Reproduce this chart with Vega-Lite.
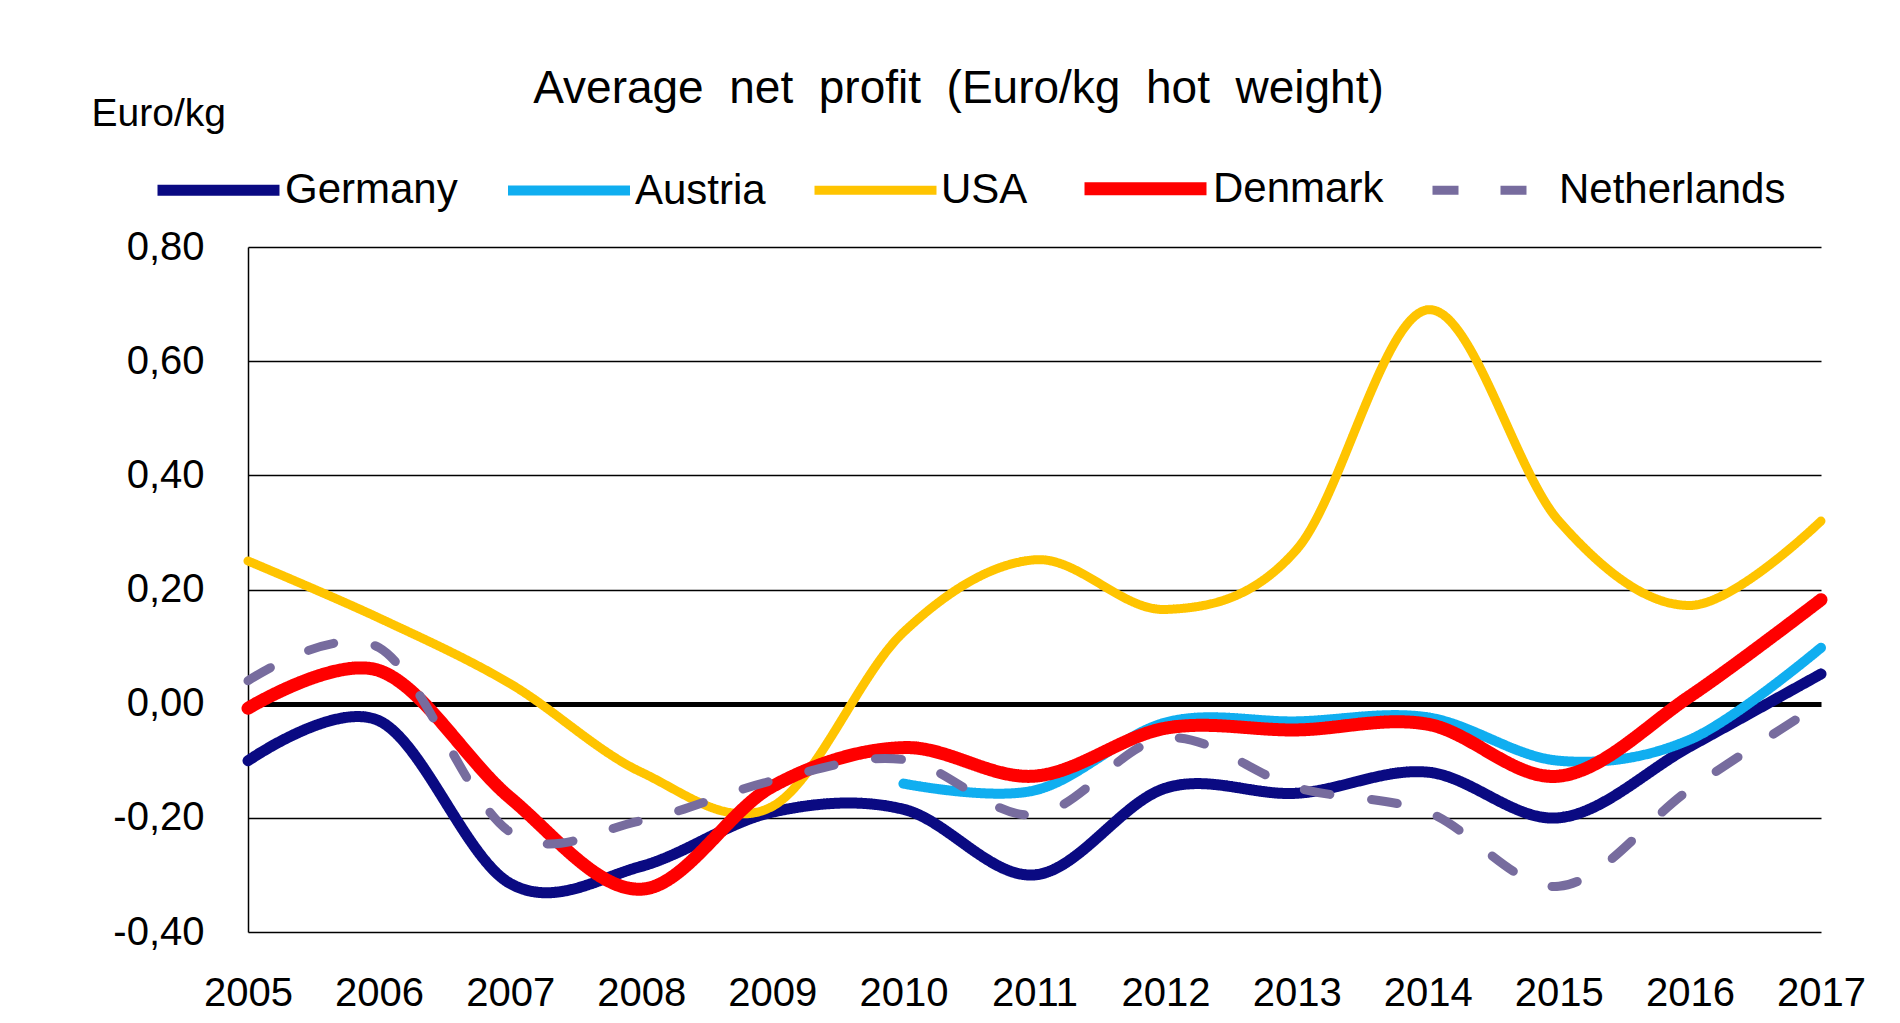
{
  "$schema": "https://vega.github.io/schema/vega-lite/v6.json",
  "autosize": "none",
  "width": 1573,
  "height": 685,
  "padding": {"left": 248, "top": 247, "right": 79, "bottom": 91},
  "background": "white",
  "title": {
    "text": "Average\u00a0 net\u00a0 profit\u00a0 (Euro/kg\u00a0 hot\u00a0 weight)",
    "anchor": "middle",
    "frame": "group",
    "dx": -76,
    "offset": -19,
    "font": "Liberation Sans",
    "fontSize": 46,
    "fontWeight": "normal",
    "color": "#000000"
  },
  "data": {
    "values": [
      {"year": 2005, "country": "Germany", "value": -0.10},
      {"year": 2006, "country": "Germany", "value": -0.03},
      {"year": 2007, "country": "Germany", "value": -0.315},
      {"year": 2008, "country": "Germany", "value": -0.285},
      {"year": 2009, "country": "Germany", "value": -0.19},
      {"year": 2010, "country": "Germany", "value": -0.185},
      {"year": 2011, "country": "Germany", "value": -0.30},
      {"year": 2012, "country": "Germany", "value": -0.148},
      {"year": 2013, "country": "Germany", "value": -0.157},
      {"year": 2014, "country": "Germany", "value": -0.12},
      {"year": 2015, "country": "Germany", "value": -0.20},
      {"year": 2016, "country": "Germany", "value": -0.075},
      {"year": 2017, "country": "Germany", "value": 0.052},
      {"year": 2010, "country": "Austria", "value": -0.14},
      {"year": 2011, "country": "Austria", "value": -0.152},
      {"year": 2012, "country": "Austria", "value": -0.033},
      {"year": 2013, "country": "Austria", "value": -0.031},
      {"year": 2014, "country": "Austria", "value": -0.024},
      {"year": 2015, "country": "Austria", "value": -0.10},
      {"year": 2016, "country": "Austria", "value": -0.063},
      {"year": 2017, "country": "Austria", "value": 0.098},
      {"year": 2005, "country": "USA", "value": 0.25},
      {"year": 2006, "country": "USA", "value": 0.15},
      {"year": 2007, "country": "USA", "value": 0.035},
      {"year": 2008, "country": "USA", "value": -0.12},
      {"year": 2009, "country": "USA", "value": -0.18},
      {"year": 2010, "country": "USA", "value": 0.125},
      {"year": 2011, "country": "USA", "value": 0.252},
      {"year": 2012, "country": "USA", "value": 0.165},
      {"year": 2013, "country": "USA", "value": 0.27},
      {"year": 2014, "country": "USA", "value": 0.69},
      {"year": 2015, "country": "USA", "value": 0.32},
      {"year": 2016, "country": "USA", "value": 0.172},
      {"year": 2017, "country": "USA", "value": 0.32},
      {"year": 2005, "country": "Denmark", "value": -0.008},
      {"year": 2006, "country": "Denmark", "value": 0.058},
      {"year": 2007, "country": "Denmark", "value": -0.165},
      {"year": 2008, "country": "Denmark", "value": -0.325},
      {"year": 2009, "country": "Denmark", "value": -0.145},
      {"year": 2010, "country": "Denmark", "value": -0.077},
      {"year": 2011, "country": "Denmark", "value": -0.127},
      {"year": 2012, "country": "Denmark", "value": -0.043},
      {"year": 2013, "country": "Denmark", "value": -0.046},
      {"year": 2014, "country": "Denmark", "value": -0.036},
      {"year": 2015, "country": "Denmark", "value": -0.127},
      {"year": 2016, "country": "Denmark", "value": 0.013},
      {"year": 2017, "country": "Denmark", "value": 0.182},
      {"year": 2005, "country": "Netherlands", "value": 0.04},
      {"year": 2006, "country": "Netherlands", "value": 0.098},
      {"year": 2007, "country": "Netherlands", "value": -0.225},
      {"year": 2008, "country": "Netherlands", "value": -0.205},
      {"year": 2009, "country": "Netherlands", "value": -0.135},
      {"year": 2010, "country": "Netherlands", "value": -0.098},
      {"year": 2011, "country": "Netherlands", "value": -0.195},
      {"year": 2012, "country": "Netherlands", "value": -0.06},
      {"year": 2013, "country": "Netherlands", "value": -0.147},
      {"year": 2014, "country": "Netherlands", "value": -0.19},
      {"year": 2015, "country": "Netherlands", "value": -0.32},
      {"year": 2016, "country": "Netherlands", "value": -0.15},
      {"year": 2017, "country": "Netherlands", "value": 0.0}
    ]
  },
  "mark": {"type": "line", "interpolate": "cardinal", "strokeCap": "round", "strokeJoin": "round", "clip": false},
  "encoding": {
    "x": {
      "field": "year",
      "type": "quantitative",
      "scale": {"domain": [2005, 2017], "nice": false, "zero": false},
      "axis": {
        "title": null,
        "values": [2005, 2006, 2007, 2008, 2009, 2010, 2011, 2012, 2013, 2014, 2015, 2016, 2017],
        "format": "d",
        "grid": false,
        "ticks": false,
        "domain": false,
        "labelFlush": false,
        "labelOverlap": false,
        "labelBound": false,
        "labelPadding": 41,
        "labelFont": "Liberation Sans",
        "labelFontSize": 40,
        "labelColor": "#000000"
      }
    },
    "y": {
      "field": "value",
      "type": "quantitative",
      "scale": {"domain": [-0.4, 0.8], "nice": false, "zero": false},
      "axis": {
        "title": "Euro/kg",
        "titleAngle": 0,
        "titleAlign": "left",
        "titleBaseline": "middle",
        "titleX": -157,
        "titleY": -134,
        "titleFont": "Liberation Sans",
        "titleFontSize": 39,
        "titleFontWeight": "normal",
        "titleColor": "#000000",
        "values": [-0.4, -0.2, 0, 0.2, 0.4, 0.6, 0.8],
        "labelExpr": "replace(replace(format(datum.value, '.2f'), '.', ','), '\u2212', '-')",
        "ticks": false,
        "labelPadding": 44,
        "labelFont": "Liberation Sans",
        "labelFontSize": 40,
        "labelColor": "#000000",
        "domain": true,
        "domainColor": "#000000",
        "domainWidth": 1.5,
        "grid": true,
        "gridColor": "#000000",
        "gridOpacity": 1,
        "gridWidth": {"condition": {"test": "datum.value === 0", "value": 5}, "value": 1.3}
      }
    },
    "color": {
      "field": "country",
      "type": "nominal",
      "scale": {
        "domain": ["Germany", "Austria", "USA", "Denmark", "Netherlands"],
        "range": ["#0A0A82", "#10AEF0", "#FFC400", "#FF0000", "#776C9E"]
      },
      "legend": {
        "title": null,
        "orient": "none",
        "legendX": -96,
        "legendY": -126,
        "direction": "horizontal",
        "symbolType": "stroke",
        "symbolSize": 14884,
        "symbolStrokeWidth": 12,
        "labelFont": "Liberation Sans",
        "labelFontSize": 42,
        "labelColor": "#000000",
        "labelLimit": 400,
        "labelOffset": 0,
        "columnPadding": 30
      }
    },
    "strokeDash": {
      "field": "country",
      "type": "nominal",
      "scale": {
        "domain": ["Germany", "Austria", "USA", "Denmark", "Netherlands"],
        "range": [[1, 0], [1, 0], [1, 0], [1, 0], [26, 42]]
      },
      "legend": {
        "title": null,
        "orient": "none",
        "legendX": -96,
        "legendY": -126,
        "direction": "horizontal",
        "symbolType": "stroke",
        "symbolSize": 14884,
        "symbolStrokeWidth": 12,
        "labelFont": "Liberation Sans",
        "labelFontSize": 42,
        "labelColor": "#000000",
        "labelLimit": 400,
        "labelOffset": 0,
        "columnPadding": 30
      }
    },
    "strokeWidth": {
      "field": "country",
      "type": "nominal",
      "scale": {
        "type": "ordinal",
        "domain": ["Germany", "Austria", "USA", "Denmark", "Netherlands"],
        "range": [11, 10, 9, 13, 9]
      },
      "legend": null
    }
  },
  "config": {
    "view": {"stroke": null},
    "font": "Liberation Sans"
  }
}
